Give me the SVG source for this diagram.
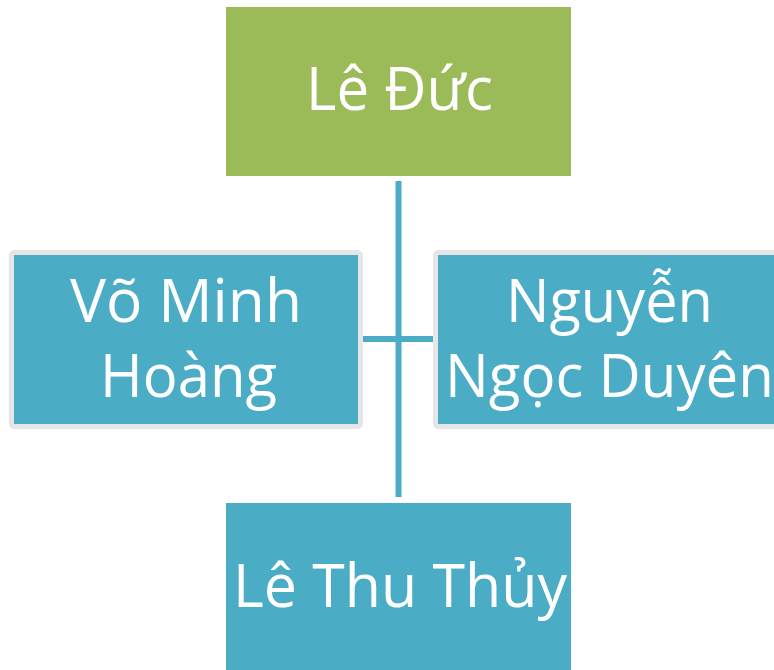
<svg xmlns="http://www.w3.org/2000/svg" width="774" height="670" viewBox="0 0 774 670">
  <style>
    .green { fill: #9bbb59; }
    .blue { fill: #4bacc6; }
    .framed { fill: #4bacc6; stroke: #e6e6e6; stroke-width: 5; }
    .label { font-family: "Open Sans", "Noto Sans", "DejaVu Sans", sans-serif; font-size: 61px; fill: #ffffff; text-anchor: middle; }
    .link { stroke: #4bacc6; stroke-width: 6; fill: none; }
  </style>
  <rect width="774" height="670" fill="#ffffff"/>

  <g id="connectors">
    <line class="link" x1="398.5" y1="181" x2="398.5" y2="497"/>
    <line class="link" x1="363" y1="339" x2="433" y2="339"/>
  </g>

  <g id="le-duc">
    <rect class="green" x="226" y="7" width="345" height="169"/>
    <text class="label" x="399.5" y="110" textLength="187" lengthAdjust="spacingAndGlyphs">Lê Đức</text>
  </g>

  <g id="vo-minh-hoang">
    <rect class="framed" x="11.5" y="252.5" width="349" height="174" rx="3"/>
    <text class="label" x="186" y="322" textLength="232" lengthAdjust="spacingAndGlyphs">Võ Minh</text>
    <text class="label" x="188.5" y="397" textLength="177" lengthAdjust="spacingAndGlyphs">Hoàng</text>
  </g>

  <g id="nguyen-ngoc-duyen">
    <rect class="framed" x="435.5" y="252.5" width="349" height="174" rx="3"/>
    <text class="label" x="609.5" y="322" textLength="207" lengthAdjust="spacingAndGlyphs">Nguyễn</text>
    <text class="label" x="609.5" y="397" textLength="329" lengthAdjust="spacingAndGlyphs">Ngọc Duyên</text>
  </g>

  <g id="le-thu-thuy">
    <rect class="blue" x="226" y="503" width="345" height="167"/>
    <text class="label" x="400" y="607" textLength="334" lengthAdjust="spacingAndGlyphs">Lê Thu Thủy</text>
  </g>
</svg>
